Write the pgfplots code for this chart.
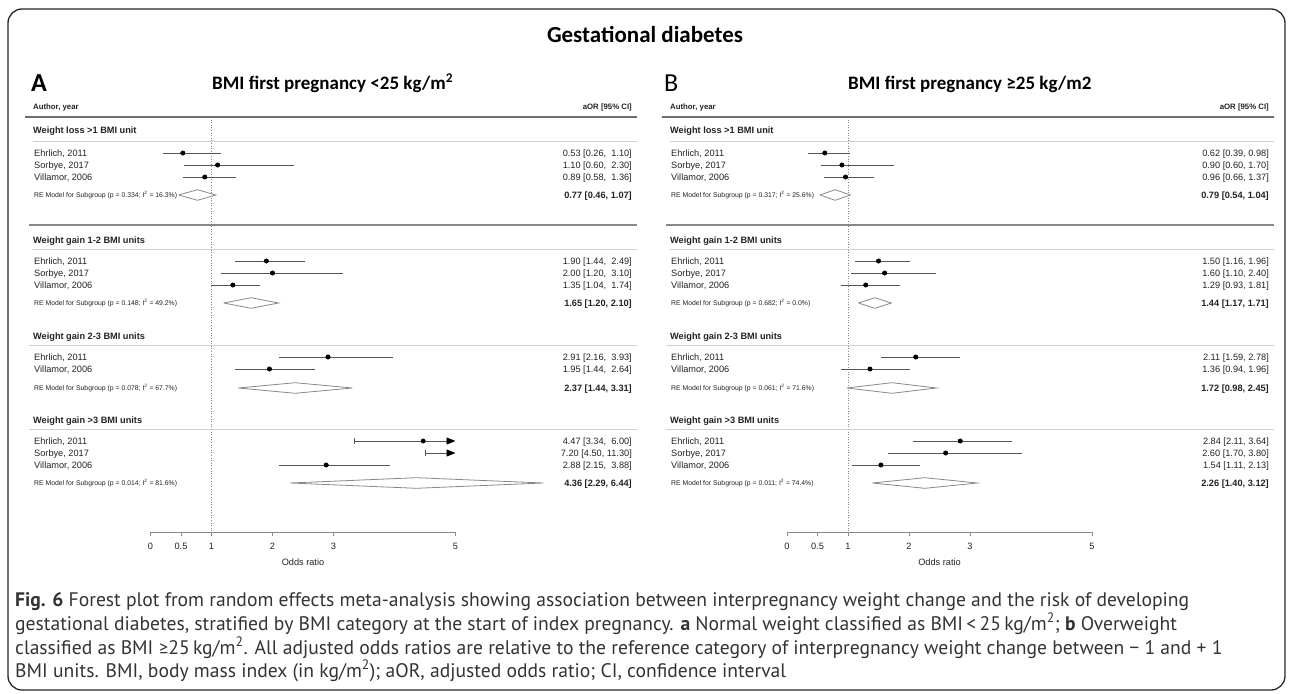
\documentclass[border=0pt]{standalone}
\usepackage{pgfplots}
\pgfplotsset{compat=1.18}
\usepackage{pgfplotstable}
\usetikzlibrary{arrows.meta}
\usepackage{fontspec}
\setmainfont{Liberation Sans}
\newfontfamily\carlito{Carlito}
\newfontfamily\capfont{PT Sans}
\newcommand{\fs}[1]{\fontsize{#1}{#1}\selectfont}
\definecolor{txt}{HTML}{222222}
\definecolor{cil}{HTML}{555555}
\definecolor{rule}{HTML}{888888}
\definecolor{lrule}{HTML}{D0D0D0}

% ---- Panel A: studies (y = -pixel row) ----
\pgfplotstableread{
y or lo hi
-153 0.53 0.26 1.10
-165 1.10 0.60 2.30
-177 0.89 0.58 1.36
-261 1.90 1.44 2.49
-273 2.00 1.20 3.10
-285 1.35 1.04 1.74
-357 2.91 2.16 3.93
-369 1.95 1.44 2.64
-441 4.47 3.34 6.00
-453 7.20 4.50 11.30
-465 2.88 2.15 3.88
}\Astud
% rows whose CI fits inside 0..5
\pgfplotstableread{
y or lo hi
-153 0.53 0.26 1.10
-165 1.10 0.60 2.30
-177 0.89 0.58 1.36
-261 1.90 1.44 2.49
-273 2.00 1.20 3.10
-285 1.35 1.04 1.74
-357 2.91 2.16 3.93
-369 1.95 1.44 2.64
-465 2.88 2.15 3.88
}\Aci
% ---- Panel B ----
\pgfplotstableread{
y or lo hi
-153 0.62 0.39 0.98
-165 0.90 0.60 1.70
-177 0.96 0.66 1.37
-261 1.50 1.16 1.96
-273 1.60 1.10 2.40
-285 1.29 0.93 1.81
-357 2.11 1.59 2.78
-369 1.36 0.94 1.96
-441 2.84 2.11 3.64
-453 2.60 1.70 3.80
-465 1.54 1.11 2.13
}\Bstud

\pgfplotsset{forest/.style={
  y=1pt, x=61pt, xmin=0, xmax=5, ymin=-532, ymax=-100, clip=false,
  axis x line*=bottom, axis y line=none,
  xtick={0,0.5,1,2,3,5}, xticklabels={0,0.5,1,2,3,5},
  tick align=outside, major tick length=4pt,
  every tick/.style={draw=rule, line width=0.8pt},
  axis line style={draw=rule, line width=0.8pt},
  xticklabel style={font=\fs{9.2}, text=txt, yshift=-7pt},
  xlabel={Odds ratio},
  xlabel style={font=\fs{9.2}, text=txt, at={(axis description cs:0.5,0)}, anchor=north, yshift=-27pt},
  anchor=south west,
}}
\pgfplotsset{cibars/.style={only marks, mark=none, forget plot,
  error bars/.cd, x dir=both, x explicit,
  error bar style={draw=cil, line width=0.8pt},
  error mark options={draw=cil, mark size=3pt, line width=0.8pt}}}
\pgfplotsset{pts/.style={only marks, mark=*, mark size=2.2pt, black, restrict x to domain=0:5}}
\pgfplotsset{dia/.style={draw=rule, fill=white, line width=0.8pt, line join=miter, mark=none}}
\pgfplotsset{refl/.style={draw=rule, line width=0.6pt, dotted, mark=none}}

\begin{document}
\begin{tikzpicture}[x=1pt,y=1pt, every node/.style={inner sep=0pt, text=txt}]
\useasboundingbox (0,0) rectangle (1292,-693);
\draw[line width=1.3pt, rounded corners=14pt, black!85] (8,-9) rectangle (1285,-690);

% ================= Panel A axis =================
\begin{axis}[forest, at={(150.5pt,-532pt)}]
\addplot[refl] coordinates {(1,-117) (1,-532)};
\addplot[cibars] table[x=or, y=y, x error plus expr=\thisrow{hi}-\thisrow{or}, x error minus expr=\thisrow{or}-\thisrow{lo}] {\Aci};
\addplot[draw=cil, line width=0.8pt, {Bar[width=6pt]}-{Triangle[length=9pt,width=7pt,color=black]}] coordinates {(3.34,-441) (5,-441)};
\addplot[draw=cil, line width=0.8pt, {Bar[width=6pt]}-{Triangle[length=9pt,width=7pt,color=black]}] coordinates {(4.50,-453) (5,-453)};
\addplot[pts] table[x=or, y=y] {\Astud};
\addplot[dia] coordinates {(0.46,-195) (0.77,-189.7) (1.07,-195) (0.77,-200.3) (0.46,-195)};
\addplot[dia] coordinates {(1.20,-303) (1.65,-297.7) (2.10,-303) (1.65,-308.3) (1.20,-303)};
\addplot[dia] coordinates {(1.44,-388) (2.37,-382.7) (3.31,-388) (2.37,-393.3) (1.44,-388)};
\addplot[dia] coordinates {(2.29,-483) (4.36,-477.7) (6.44,-483) (4.36,-488.3) (2.29,-483)};
\end{axis}

% ================= Panel B axis =================
\begin{axis}[forest, at={(787pt,-532pt)}]
\addplot[refl] coordinates {(1,-117) (1,-532)};
\addplot[cibars] table[x=or, y=y, x error plus expr=\thisrow{hi}-\thisrow{or}, x error minus expr=\thisrow{or}-\thisrow{lo}] {\Bstud};
\addplot[pts] table[x=or, y=y] {\Bstud};
\addplot[dia] coordinates {(0.54,-195) (0.79,-189.7) (1.04,-195) (0.79,-200.3) (0.54,-195)};
\addplot[dia] coordinates {(1.17,-303) (1.44,-297.7) (1.71,-303) (1.44,-308.3) (1.17,-303)};
\addplot[dia] coordinates {(0.98,-388) (1.72,-382.7) (2.45,-388) (1.72,-393.3) (0.98,-388)};
\addplot[dia] coordinates {(1.40,-483) (2.26,-477.7) (3.12,-483) (2.26,-488.3) (1.40,-483)};
\end{axis}

% ================= Titles =================
\node[font=\carlito\bfseries\fs{23}, text=black] at (645,-34) {Gestational diabetes};
\node[anchor=base west, font=\carlito\bfseries\fs{26}, text=black] at (31,-91) {A};
\node[anchor=base west, font=\carlito\bfseries\fs{19}, text=black] at (212,-89) {BMI first pregnancy <25 kg/m\textsuperscript{2}};
\node[anchor=base west, font=\carlito\fs{26}, text=black] at (664,-91) {B};
\node[anchor=base west, font=\carlito\bfseries\fs{19}, text=black] at (848,-89) {BMI first pregnancy ≥25 kg/m2};

% ================= Table text, both panels =================
\foreach \dx/\pn in {0/A, 637/B}{
\begin{scope}[xshift=\dx pt]
\node[anchor=base west, font=\bfseries\fs{7.8}] at (33,-109) {Author, year};
\node[anchor=base east, font=\bfseries\fs{7.8}] at (632,-109) {aOR [95\% CI]};
\draw[rule!80!black, line width=1.1pt] (25,-117) -- (637,-117);
\draw[lrule, line width=0.9pt] (33,-141) -- (637,-141);
\draw[rule, line width=1.1pt] (29,-225) -- (637,-225);
\draw[lrule, line width=0.9pt] (33,-249) -- (637,-249);
\draw[lrule, line width=0.9pt] (29,-345) -- (637,-345);
\draw[lrule, line width=0.9pt] (29,-429) -- (637,-429);
\node[anchor=base west, font=\bfseries\fs{9.2}] at (33,-133.3) {Weight loss >1 BMI unit};
\node[anchor=base west, font=\bfseries\fs{9.2}] at (33,-243.3) {Weight gain 1-2 BMI units};
\node[anchor=base west, font=\bfseries\fs{9.2}] at (33,-339.8) {Weight gain 2-3 BMI units};
\node[anchor=base west, font=\bfseries\fs{9.2}] at (33,-423.8) {Weight gain >3 BMI units};
\foreach \yy/\nm in {153/{Ehrlich, 2011},165/{Sorbye, 2017},177/{Villamor, 2006},261/{Ehrlich, 2011},273/{Sorbye, 2017},285/{Villamor, 2006},357/{Ehrlich, 2011},369.5/{Villamor, 2006},441/{Ehrlich, 2011},453/{Sorbye, 2017},465.5/{Villamor, 2006}}
  {\node[anchor=base west, font=\fs{9.2}] at (34,-\yy-3.3) {\nm};}
\end{scope}}

% RE model labels
\newcommand{\RE}[4]{\node[anchor=base west, font=\fs{6.85}] at (#1,-#2-2.4) {RE Model for Subgroup (p = #3; I\textsuperscript{2} = #4\%)};}
\RE{34}{195}{0.334}{16.3}
\RE{34}{303}{0.148}{49.2}
\RE{34}{388}{0.078}{67.7}
\RE{34}{483}{0.014}{81.6}
\RE{671}{195}{0.317}{25.6}
\RE{671}{303}{0.682}{0.0}
\RE{671}{388}{0.061}{71.6}
\RE{671}{483}{0.011}{74.4}

% values column
\newcommand{\V}[3]{\node[anchor=base east, font=\fs{9.2}] at (#1,-#2-3.3) {#3};}
\newcommand{\VB}[3]{\node[anchor=base east, font=\bfseries\fs{9.2}] at (#1,-#2-3.3) {#3};}
\V{632}{153}{0.53 [0.26,\ \ 1.10]}
\V{632}{165}{1.10 [0.60,\ \ 2.30]}
\V{632}{177}{0.89 [0.58,\ \ 1.36]}
\VB{632}{195}{0.77 [0.46, 1.07]}
\V{632}{261}{1.90 [1.44,\ \ 2.49]}
\V{632}{273}{2.00 [1.20,\ \ 3.10]}
\V{632}{285}{1.35 [1.04,\ \ 1.74]}
\VB{632}{303}{1.65 [1.20, 2.10]}
\V{632}{357}{2.91 [2.16,\ \ 3.93]}
\V{632}{369.5}{1.95 [1.44,\ \ 2.64]}
\VB{632}{388}{2.37 [1.44, 3.31]}
\V{632}{441}{4.47 [3.34,\ \ 6.00]}
\V{632}{453}{7.20 [4.50, 11.30]}
\V{632}{465.5}{2.88 [2.15,\ \ 3.88]}
\VB{632}{483}{4.36 [2.29, 6.44]}
\V{1269}{153}{0.62 [0.39, 0.98]}
\V{1269}{165}{0.90 [0.60, 1.70]}
\V{1269}{177}{0.96 [0.66, 1.37]}
\VB{1269}{195}{0.79 [0.54, 1.04]}
\V{1269}{261}{1.50 [1.16, 1.96]}
\V{1269}{273}{1.60 [1.10, 2.40]}
\V{1269}{285}{1.29 [0.93, 1.81]}
\VB{1269}{303}{1.44 [1.17, 1.71]}
\V{1269}{357}{2.11 [1.59, 2.78]}
\V{1269}{369.5}{1.36 [0.94, 1.96]}
\VB{1269}{388}{1.72 [0.98, 2.45]}
\V{1269}{441}{2.84 [2.11, 3.64]}
\V{1269}{453}{2.60 [1.70, 3.80]}
\V{1269}{465.5}{1.54 [1.11, 2.13]}
\VB{1269}{483}{2.26 [1.40, 3.12]}

% ================= Caption =================
\begin{scope}[every node/.style={anchor=base west, inner sep=0pt, font=\capfont\fs{19.6}, text=black!80}]
\node at (15,-606) {\textbf{Fig. 6} Forest plot from random effects meta-analysis showing association between interpregnancy weight change and the risk of developing};
\node at (15,-630) {gestational diabetes, stratified by BMI category at the start of index pregnancy. \textbf{a} Normal weight classified as BMI\,<\,25\,kg/m\textsuperscript{2}; \textbf{b} Overweight};
\node at (15,-654) {classified as BMI {\carlito ≥}25\,kg/m\textsuperscript{2}. All adjusted odds ratios are relative to the reference category of interpregnancy weight change between − 1 and + 1};
\node at (15,-677) {BMI units. BMI, body mass index (in kg/m\textsuperscript{2}); aOR, adjusted odds ratio; CI, confidence interval};
\end{scope}
\end{tikzpicture}
\end{document}
